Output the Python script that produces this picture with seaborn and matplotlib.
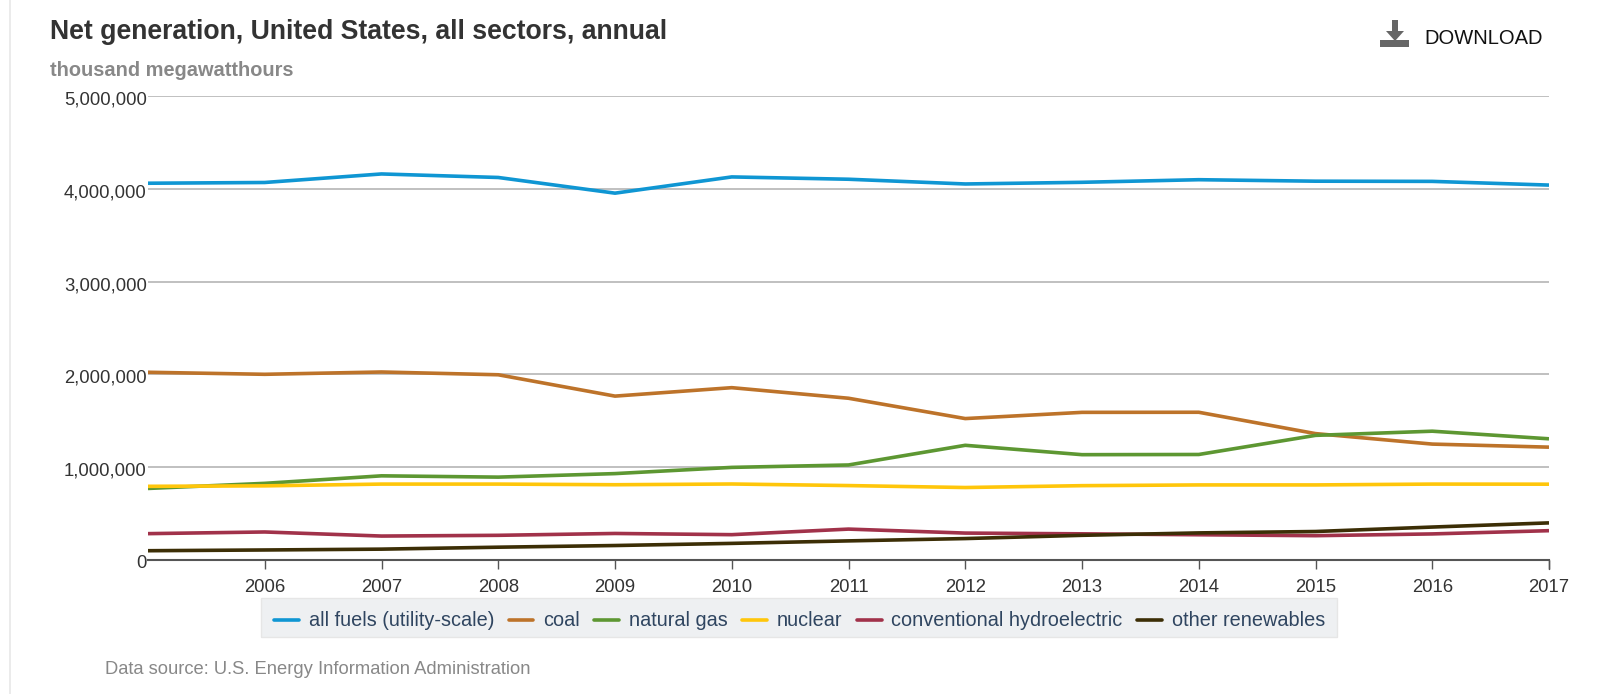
import matplotlib
matplotlib.use("Agg")
import matplotlib.pyplot as plt
from matplotlib.transforms import ScaledTranslation
import pandas as pd
import seaborn as sns
from matplotlib.lines import Line2D
from matplotlib.patches import Polygon, Rectangle

years = list(range(2005, 2018))
all_fuels = [4060, 4068, 4160, 4122, 3953, 4128, 4103, 4052, 4070, 4098, 4082, 4080, 4040]
coal = [2023, 2001, 2026, 1996, 1766, 1857, 1743, 1524, 1591, 1592, 1362, 1249, 1216]
natural_gas = [771, 826, 907, 893, 931, 998, 1024, 1236, 1135, 1137, 1343, 1388, 1306]
nuclear = [794, 799, 818, 818, 811, 819, 802, 781, 801, 809, 809, 818, 817]
hydro = [284, 302, 258, 266, 286, 273, 333, 290, 282, 272, 262, 281, 316]
other = [100, 108, 117, 138, 156, 179, 206, 231, 266, 292, 307, 355, 400]
series_names = ["all fuels (utility-scale)", "coal", "natural gas", "nuclear",
                "conventional hydroelectric", "other renewables"]
series_values = [all_fuels, coal, natural_gas, nuclear, hydro, other]
series_colors = ["#0f96d3", "#bd732a", "#5d9732", "#ffc60b", "#a1324a", "#3c2e06"]
y_ticks = [0, 1000000, 2000000, 3000000, 4000000, 5000000]

W, H = 1599, 694
sns.set_theme(style="white")
plt.rcParams["font.family"] = ["Liberation Sans", "DejaVu Sans"]

df = pd.DataFrame({"year": years * len(series_names),
                   "series": [n for n in series_names for _ in years],
                   "value": [v * 1000 for s in series_values for v in s]})

fig = plt.figure(figsize=(W / 100, H / 100), dpi=100)
L, R, T, B = 148, 1549, 96, 560
ax = fig.add_axes([L / W, 1 - B / H, (R - L) / W, (B - T) / H])
ax.set_facecolor("none")
sns.lineplot(data=df, x="year", y="value", hue="series", hue_order=series_names,
             palette=series_colors, linewidth=2.6, ax=ax, legend=False, zorder=3,
             solid_joinstyle="round", solid_capstyle="butt", errorbar=None)
ax.set_xlim(2005, 2017)
ax.set_ylim(0, 5000000)
ax.set_xlabel("")
ax.set_ylabel("")
ax.set_xticks(years[1:])
ax.set_xticklabels([str(y) for y in years[1:]])
ax.set_yticks(y_ticks)
ax.set_yticklabels([f"{v:,}" for v in y_ticks])
ax.grid(axis="y", color="#c0c0c0", linewidth=1.4)
ax.set_axisbelow(True)
for s in ("top", "right", "left"):
    ax.spines[s].set_visible(False)
ax.spines["bottom"].set_color("#555555")
ax.spines["bottom"].set_linewidth(1.5)
ax.tick_params(axis="x", bottom=True, length=6.5, width=1, color="#555555",
               labelsize=13.3, labelcolor="#333333", pad=7)
ax.tick_params(axis="y", left=False, length=0, labelsize=13.3, labelcolor="#333333", pad=1)
# labels sit slightly below their gridlines
shift = ScaledTranslation(0, -2 / 100, fig.dpi_scale_trans)
for lab in ax.get_yticklabels():
    lab.set_transform(lab.get_transform() + shift)
ax.add_line(Line2D([1, 1], [0, -9 / (B - T)], transform=ax.transAxes, color="#555555",
                   lw=1, clip_on=False))


def px(x, y):
    return x / W, 1 - y / H


fig.add_artist(Line2D([10 / W, 10 / W], [0, 1], color="#e8e8e8", lw=1.2))
fig.text(*px(50, 39), "Net generation, United States, all sectors, annual", fontsize=19.15,
         fontweight="bold", color="#333333")
fig.text(*px(50, 75.5), "thousand megawatthours", fontsize=14.4, fontweight="bold", color="#888888")
fig.text(*px(1424, 44), "DOWNLOAD", fontsize=14.5, color="#111111")
fig.text(*px(105, 674), "Data source: U.S. Energy Information Administration", fontsize=13.2,
         color="#888888")

# download icon
icon = "#666666"
fig.add_artist(Rectangle(px(1380, 47), 29 / W, 7 / H, transform=fig.transFigure, color=icon, lw=0))
fig.add_artist(Polygon([px(*p) for p in [(1392, 20), (1398, 20), (1398, 31), (1404, 31),
                                        (1395, 41), (1386, 31), (1392, 31)]],
                       closed=True, transform=fig.transFigure, color=icon, lw=0))

# legend: panel drawn separately so its height can match independently of the entries
fig.add_artist(Rectangle(px(261, 637), 1076 / W, 39 / H, transform=fig.transFigure,
                         facecolor="#eef0f2", edgecolor="#e6e6e6", lw=1, zorder=2))
handles = [Line2D([], [], color=c, lw=2.6) for c in series_colors]
legend = fig.legend(handles, series_names, loc="center", bbox_to_anchor=(799.5 / W, 1 - 621 / H),
                    ncol=6, frameon=False, fontsize=14.3, labelcolor="#2f4560", handlelength=1.25,
                    handletextpad=0.5, columnspacing=0.72, borderpad=0, borderaxespad=0)
legend.set_zorder(3)

fig.savefig("out.png", dpi=100, facecolor="white")
